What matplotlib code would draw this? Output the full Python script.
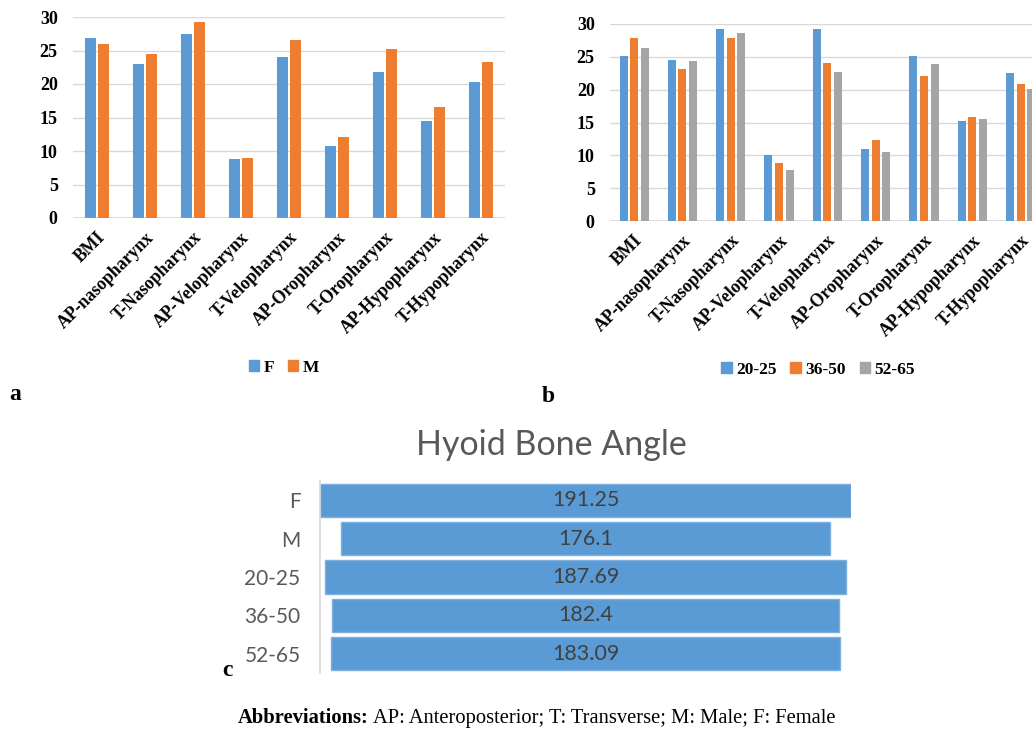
import numpy as np
import matplotlib
matplotlib.use("Agg")
import matplotlib.pyplot as plt
from matplotlib.patches import Patch

# ---------------- data ----------------
categories = ["BMI", "AP-nasopharynx", "T-Nasopharynx", "AP-Velopharynx",
              "T-Velopharynx", "AP-Oropharynx", "T-Oropharynx",
              "AP-Hypopharynx", "T-Hypopharynx"]
sex_labels = ["F", "M"]
female_vals = [26.8, 23.0, 27.5, 8.8, 24.0, 10.8, 21.8, 14.5, 20.3]
male_vals = [26.0, 24.5, 29.3, 9.0, 26.5, 12.05, 25.2, 16.5, 23.3]

age_labels = ["20-25", "36-50", "52-65"]
age_20_25 = [25.2, 24.5, 29.3, 10.1, 29.2, 10.9, 25.2, 15.2, 22.5]
age_36_50 = [27.9, 23.2, 27.8, 8.9, 24.1, 12.4, 22.1, 15.8, 20.8]
age_52_65 = [26.3, 24.3, 28.6, 7.8, 22.7, 10.5, 23.9, 15.5, 20.1]

hyoid_groups = ["F", "M", "20-25", "36-50", "52-65"]
hyoid_angles = [191.25, 176.1, 187.69, 182.4, 183.09]

yticks_ab = [0, 5, 10, 15, 20, 25, 30]

# ---------------- style ----------------
BLUE = "#5B9BD5"
ORANGE = "#ED7D31"
GRAY = "#A5A5A5"
GRID = "#D9D9D9"
SERIF = ["Liberation Serif", "DejaVu Serif"]
SANS = ["Lato", "DejaVu Sans"]

W, H = 1032, 731
fig = plt.figure(figsize=(W / 100, H / 100), dpi=100)


def px_axes(left, top, right, bottom):
    return fig.add_axes([left / W, 1 - bottom / H, (right - left) / W, (bottom - top) / H])


def style_bar_axes(ax):
    ax.set_ylim(0, 30)
    ax.set_yticks(yticks_ab)
    ax.yaxis.grid(True, color=GRID, lw=1.0)
    ax.set_axisbelow(True)
    for s in ax.spines.values():
        s.set_visible(False)
    ax.axhline(0, color=GRID, lw=1.2, zorder=0.5)
    ax.tick_params(axis="both", length=0)
    ax.tick_params(axis="y", pad=11)
    for lab in ax.get_yticklabels():
        lab.set_fontfamily(SERIF)
        lab.set_fontweight("bold")
        lab.set_fontsize(13)
    ax.set_xticks(np.arange(len(categories)))
    ax.set_xticklabels(categories, rotation=45, ha="right", rotation_mode="anchor",
                       fontfamily=SERIF, fontweight="bold", fontsize=12.8)
    ax.tick_params(axis="x", pad=8)
    ax.set_xlim(-0.5, len(categories) - 0.5)


# ---------------- panel a ----------------
axa = px_axes(73, 17, 505, 218)
x = np.arange(len(categories))
wa = 0.215
axa.bar(x - 0.135, female_vals, wa, color=BLUE, zorder=2)
axa.bar(x + 0.135, male_vals, wa, color=ORANGE, zorder=2)
style_bar_axes(axa)

leg_font = {"family": SERIF, "weight": "bold", "size": 12.5}
fig.legend([Patch(color=BLUE), Patch(color=ORANGE)], sex_labels,
           loc="center", bbox_to_anchor=(284 / W, 1 - 368 / H), ncol=2, frameon=False,
           prop=leg_font, handlelength=0.6, handleheight=0.6, handletextpad=0.25,
           columnspacing=0.8)

# ---------------- panel b ----------------
axb = px_axes(610, 24, 610 + 9 * 48.3, 221)
wb = 0.166
axb.bar(x - 0.22, age_20_25, wb, color=BLUE, zorder=2)
axb.bar(x, age_36_50, wb, color=ORANGE, zorder=2)
axb.bar(x + 0.22, age_52_65, wb, color=GRAY, zorder=2)
style_bar_axes(axb)

fig.legend([Patch(color=BLUE), Patch(color=ORANGE), Patch(color=GRAY)], age_labels,
           loc="center", bbox_to_anchor=(818 / W, 1 - 370 / H), ncol=3, frameon=False,
           prop=leg_font, handlelength=0.6, handleheight=0.6, handletextpad=0.25,
           columnspacing=0.8)

# ---------------- panel c ----------------
axc = px_axes(320, 481, 851, 673)
vals = np.array(hyoid_angles)
yc = np.arange(len(hyoid_groups))
axc.barh(yc, vals, left=-vals / 2, height=0.86, color=BLUE,
         edgecolor="#7EB0DF", lw=1.0, zorder=2)
axc.set_xlim(-vals.max() / 2, vals.max() / 2)
axc.set_ylim(len(hyoid_groups) - 0.5, -0.5)
for s in ["top", "right", "bottom"]:
    axc.spines[s].set_visible(False)
axc.spines["left"].set_color(GRID)
axc.spines["left"].set_linewidth(1.2)
axc.set_xticks([])
axc.set_yticks(yc)
axc.set_yticklabels(hyoid_groups, fontfamily=SANS, fontsize=15, color="#595959")
axc.tick_params(axis="y", length=0, pad=14)
for yi, v in zip(yc, hyoid_angles):
    axc.text(0, yi, f"{v:g}", ha="center", va="center", fontfamily=SANS,
             fontsize=15.5, color="#404040", zorder=3)

fig.text(551 / W, 1 - 445 / H, "Hyoid Bone Angle", ha="center", va="center",
         fontfamily=SANS, fontsize=24.5, color="#595959")

# ---------------- panel letters ----------------
for letter, (px, py) in {"a": (15, 395), "b": (548, 396), "c": (227, 671)}.items():
    fig.text(px / W, 1 - py / H, letter, ha="center", va="center",
             fontfamily=SERIF, fontweight="bold", fontsize=17)

# ---------------- abbreviations ----------------
t1 = fig.text(238 / W, 1 - 718 / H, "Abbreviations:", ha="left", va="center",
              fontfamily=SERIF, fontweight="bold", fontsize=14.8)
fig.canvas.draw()
bb = t1.get_window_extent()
fig.text(bb.x1 / W, 1 - 718 / H, " AP: Anteroposterior; T: Transverse; M: Male; F: Female",
         ha="left", va="center", fontfamily=SERIF, fontsize=14.8)

fig.savefig("out.png", dpi=100)
